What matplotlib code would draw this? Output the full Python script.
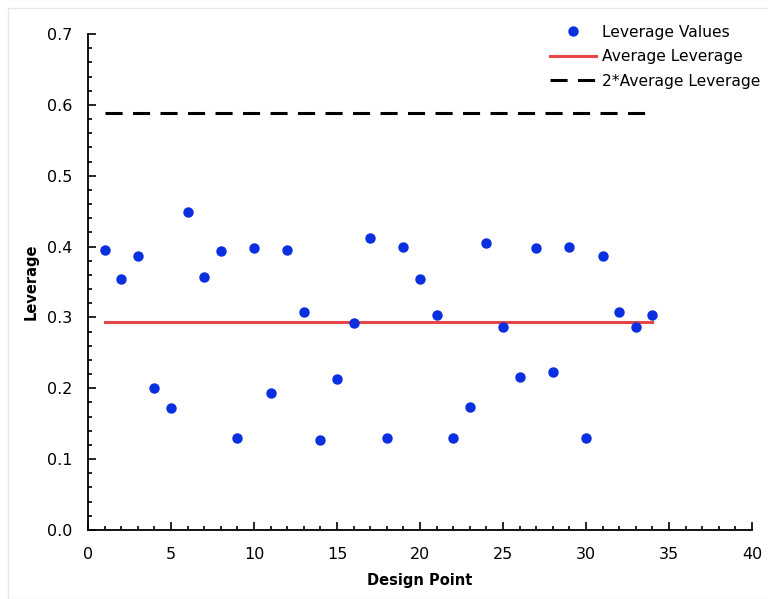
import matplotlib
matplotlib.use('Agg')
import matplotlib.pyplot as plt
import matplotlib.ticker as mticker
from matplotlib.patches import Rectangle

# ── Data ──────────────────────────────────────────────────────────────
design_points = list(range(1, 35))
leverage = [0.395, 0.354, 0.387, 0.200, 0.172, 0.449, 0.357, 0.394, 0.130, 0.398,
            0.193, 0.395, 0.308, 0.127, 0.213, 0.292, 0.412, 0.130, 0.399, 0.354,
            0.303, 0.130, 0.174, 0.405, 0.286, 0.216, 0.398, 0.223, 0.399, 0.130,
            0.387, 0.308, 0.286, 0.303]
avg_leverage = 0.294
line_x = [1, 34]

# ── Plot ──────────────────────────────────────────────────────────────
plt.rcParams['font.family'] = ['DejaVu Sans']
fig = plt.figure(figsize=(7.68, 5.99), dpi=100)
fig.patch.set_facecolor('white')
fig.patches.append(Rectangle((8 / 768, 0), 1, 591 / 599, transform=fig.transFigure,
                             fill=False, edgecolor='#e6e6e6', linewidth=1))
ax = fig.add_axes([0.1146, 0.1152, 0.8646, 0.828])

ax.plot(design_points, leverage, 'o', color='#0a2fe0', markersize=6.5,
        label='Leverage Values', zorder=3)
ax.plot(line_x, [avg_leverage] * 2, color='#e84646', linewidth=2.2,
        label='Average Leverage', zorder=2)
ax.plot(line_x, [2 * avg_leverage] * 2, color='black', linewidth=2.2,
        dashes=(5.6, 3.4), label='2*Average Leverage', zorder=2)

ax.set_xlim(0, 40)
ax.set_ylim(0, 0.7)
ax.xaxis.set_major_locator(mticker.MultipleLocator(5))
ax.xaxis.set_minor_locator(mticker.MultipleLocator(1))
ax.yaxis.set_major_locator(mticker.MultipleLocator(0.1))
ax.yaxis.set_minor_locator(mticker.MultipleLocator(0.02))
ax.yaxis.set_major_formatter(mticker.FormatStrFormatter('%.1f'))
ax.tick_params(which='both', direction='in', width=1.2, labelsize=11.5)
ax.tick_params(which='major', length=6)
ax.tick_params(which='minor', length=3)
ax.tick_params(axis='x', pad=12)
ax.tick_params(axis='y', pad=11)

ax.set_xlabel('Design Point', fontsize=10.5, fontweight='bold', labelpad=8)
ax.set_ylabel('Leverage', fontsize=10.5, fontweight='bold', labelpad=6)

ax.spines['top'].set_visible(False)
ax.spines['right'].set_visible(False)
ax.spines['left'].set_linewidth(1.3)
ax.spines['bottom'].set_linewidth(1.3)

ax.legend(fontsize=11.2, frameon=False, loc='upper right',
          bbox_to_anchor=(1.0, 0.972), bbox_transform=fig.transFigure,
          handlelength=2.95, handletextpad=0.4, labelspacing=0.62,
          borderaxespad=0.1)

plt.savefig('out.png', dpi=100, facecolor='white')
